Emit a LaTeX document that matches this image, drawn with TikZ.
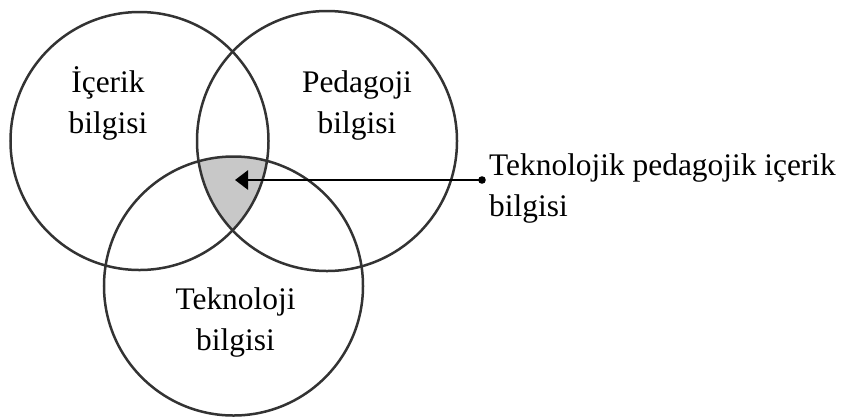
\documentclass[tikz,border=0pt]{standalone}
\usepackage{fontspec}
\setmainfont{Liberation Serif}
\usetikzlibrary{arrows.meta}
\definecolor{ringgray}{HTML}{333333}
\definecolor{shadegray}{HTML}{C8C8C8}
\begin{document}
\begin{tikzpicture}[x=1bp,y=-1bp,
  ring/.style={draw=ringgray, line width=2.5bp, circle, inner sep=0pt},
  lbl/.style={align=center, inner sep=0pt, font=\fontsize{31.4bp}{41bp}\selectfont, anchor=base},
  side/.style={align=left, inner sep=0pt, font=\fontsize{31.4bp}{41bp}\selectfont, anchor=base west},
  pointer/.style={line width=2.8bp, -{Triangle[length=13bp,width=19bp]}}
 ]
\useasboundingbox (0,0) rectangle (841,417);
\begin{scope}
\clip (139.5,141) circle[radius=129];
\clip (327,141) circle[radius=130];
\fill[shadegray] (233.5,286) circle[radius=129.5];
\end{scope}
\node[ring, minimum size=258bp] (icerik) at (139.5,141) {};
\node[ring, minimum size=260bp] (pedagoji) at (327,141) {};
\node[ring, minimum size=259bp] (teknoloji) at (233.5,286) {};
\node[lbl] (licerik) at (108,133) {İçerik\\bilgisi};
\node[lbl] (lpedagoji) at (357,133) {Pedagoji\\bilgisi};
\node[lbl] (lteknoloji) at (235.5,350) {Teknoloji\\bilgisi};
\coordinate (tip) at (235,180);
\coordinate (dot) at (482,180);
\node[side] (ltpik) at (489,216) {Teknolojik pedagojik içerik\\bilgisi};
\draw[pointer] (dot) -- (tip);
\fill (dot) circle[radius=3.8bp];
\end{tikzpicture}
\end{document}
